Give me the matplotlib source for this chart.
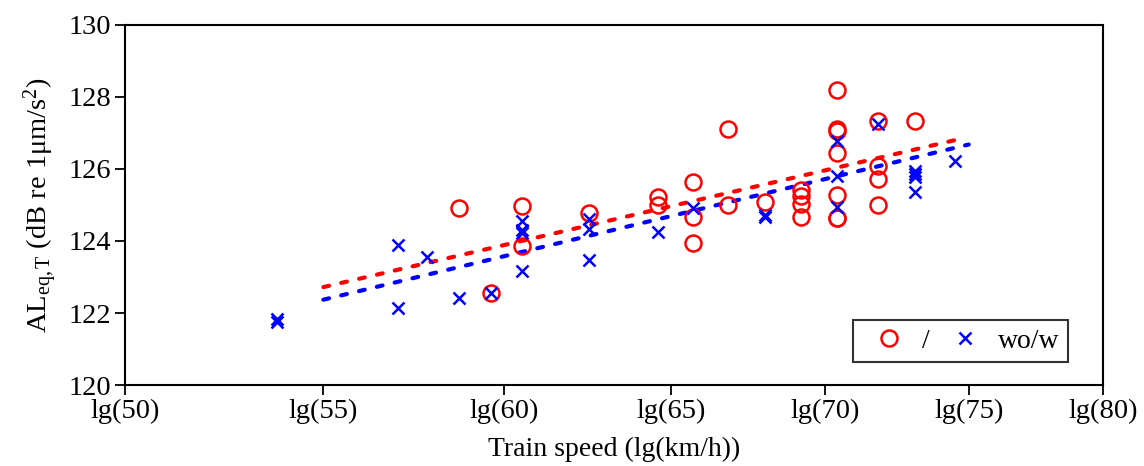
import numpy as np
import matplotlib
matplotlib.use('Agg')
import matplotlib.pyplot as plt

plt.rcParams['font.family'] = ['Liberation Serif', 'DejaVu Serif']
plt.rcParams['mathtext.fontset'] = 'custom'
plt.rcParams['mathtext.rm'] = 'Liberation Serif'
plt.rcParams['mathtext.it'] = 'Liberation Serif:italic'

# speeds in km/h (plotted as lg(speed)), levels in dB
red_speed = [58.7, 59.6, 60.5, 60.5, 62.5, 64.6, 64.6, 65.7, 65.7, 65.7,
             66.8, 66.8, 68.0, 69.2, 69.2, 69.2, 69.2,
             70.4, 70.4, 70.4, 70.4, 70.4, 70.4, 70.4,
             71.8, 71.8, 71.8, 71.8, 73.1]
red_level = [124.93, 122.55, 124.97, 123.86, 124.77, 125.23, 125.0, 125.65, 124.66, 123.94,
             127.11, 125.0, 125.07, 125.42, 125.25, 125.03, 124.66,
             128.19, 127.1, 127.05, 126.44, 125.28, 124.63, 124.63,
             127.34, 126.08, 125.71, 125.0, 127.33]

blue_speed = [53.8, 53.8, 57.0, 57.0, 57.8, 58.7, 59.6,
              60.5, 60.5, 60.5, 60.5, 62.5, 62.5, 62.5,
              64.6, 65.7, 68.0, 68.0,
              70.4, 70.4, 70.4, 71.8,
              73.1, 73.1, 73.1, 73.1, 74.5]
blue_level = [121.82, 121.75, 123.89, 122.13, 123.56, 122.41, 122.55,
              124.56, 124.3, 124.22, 123.17, 124.6, 124.33, 123.47,
              124.24, 124.93, 124.72, 124.66,
              126.78, 125.81, 124.95, 127.25,
              125.95, 125.85, 125.78, 125.35, 126.23]

# linear fits (level at start / end speed)
red_fit_speed = [55, 74.5]
red_fit_level = [122.72, 126.8]
blue_fit_speed = [55, 75]
blue_fit_level = [122.37, 126.68]

tick_speeds = [50, 55, 60, 65, 70, 75, 80]

fig = plt.figure(figsize=(11.44, 4.66), dpi=100)
ax = fig.add_axes([0.1093, 0.1738, 0.9642 - 0.1093, 0.9464 - 0.1738])

dots = (0, (1.4, 3.0))
ax.plot(np.log10(red_fit_speed), red_fit_level, color='#ff0000', lw=3,
        linestyle=dots, dash_capstyle='round')
ax.plot(np.log10(blue_fit_speed), blue_fit_level, color='#0000ff', lw=3,
        linestyle=dots, dash_capstyle='round')

ax.plot(np.log10(red_speed), red_level, 'o', mfc='none', mec='#ff0000',
        ms=11.5, mew=1.8, label='/')
ax.plot(np.log10(blue_speed), blue_level, 'x', color='#0000ff',
        ms=8, mew=1.8, label='wo/w')

ax.set_xlim(np.log10(50), np.log10(80))
ax.set_ylim(120, 130)
ax.set_xticks(np.log10(tick_speeds))
ax.set_xticklabels(['lg(%d)' % s for s in tick_speeds])
ax.set_yticks(range(120, 131, 2))

ax.tick_params(direction='out', length=7, width=1.3, labelsize=20.5, pad=3)
for sp in ax.spines.values():
    sp.set_linewidth(1.5)

ax.set_xlabel('Train speed (lg(km/h))', fontsize=20, labelpad=9)
ax.set_ylabel(r'AL$_{\mathrm{eq,T}}$ (dB re 1μm/s$^2$)', fontsize=20.5, labelpad=6)

leg = ax.legend(loc='lower right', ncol=2, fontsize=20, frameon=True,
                fancybox=False, edgecolor='black', handlelength=2.0,
                columnspacing=0.25, handletextpad=0.2, borderaxespad=0,
                borderpad=0.3, bbox_to_anchor=(0.964, 0.064))
leg.get_frame().set_linewidth(1.5)

fig.savefig('out.png', dpi=100)
